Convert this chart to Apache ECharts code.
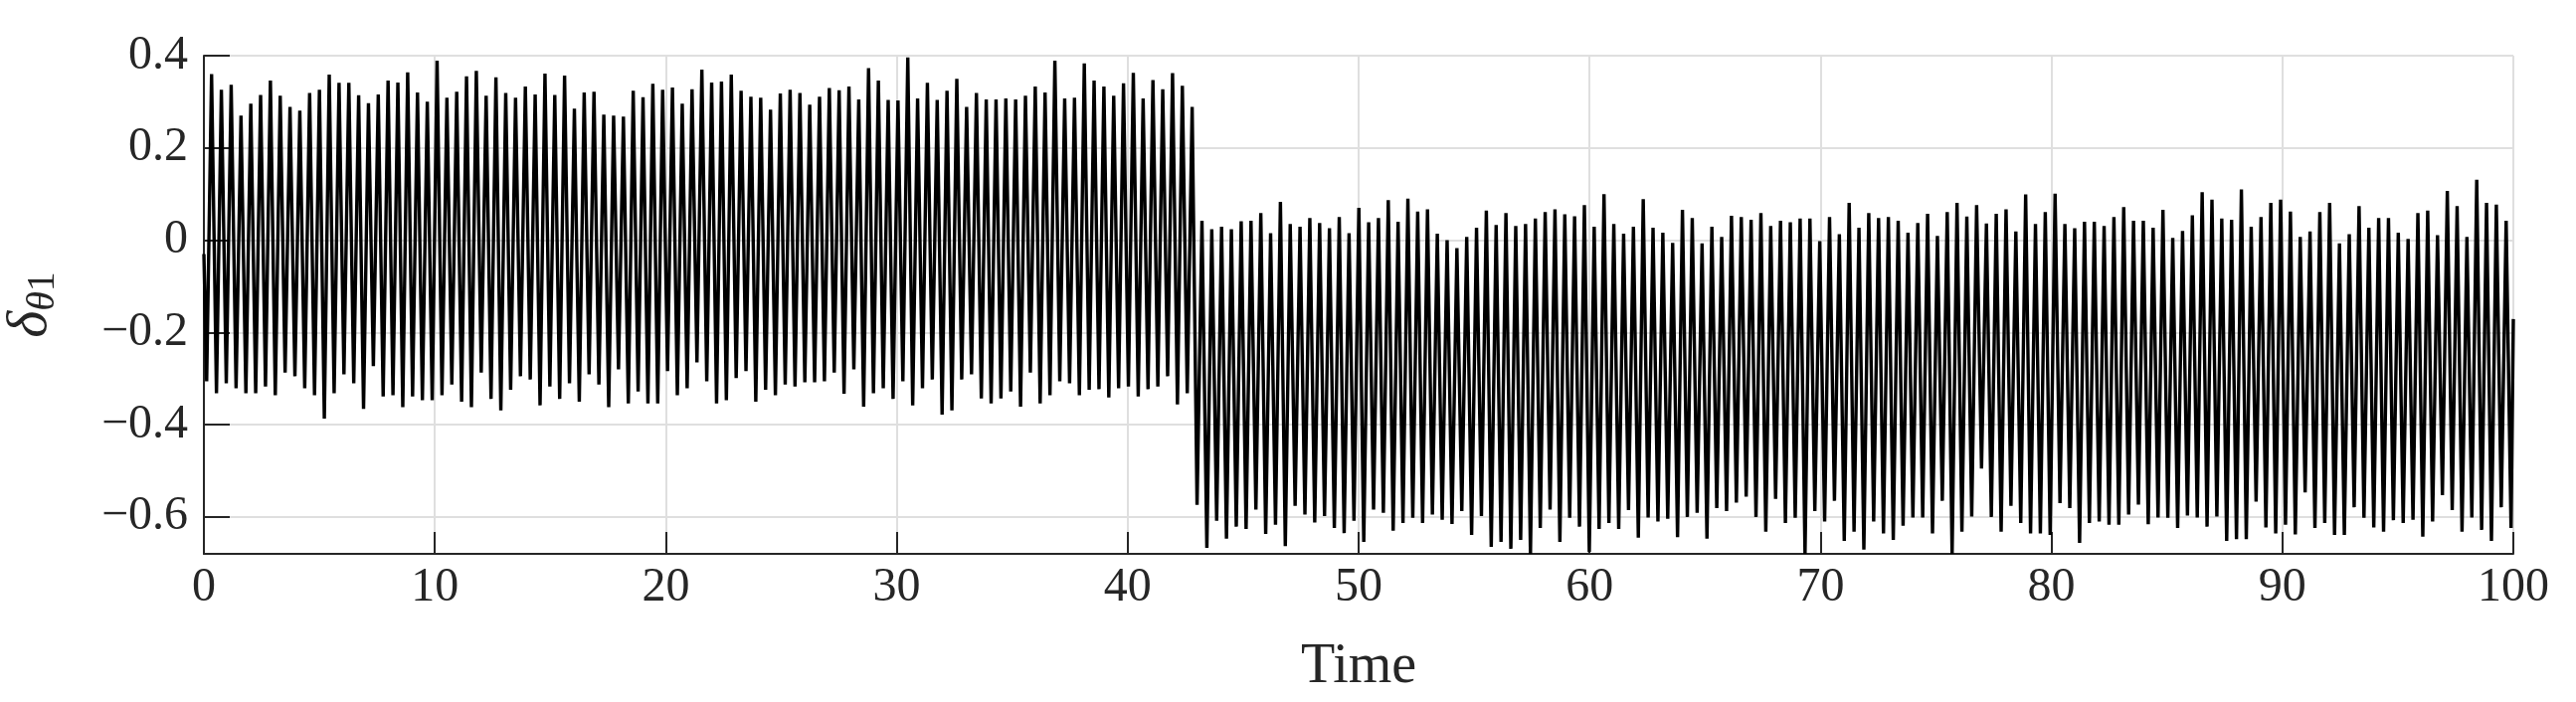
<!DOCTYPE html>
<html><head><meta charset="utf-8">
<script src="https://cdn.jsdelivr.net/npm/echarts@6/dist/echarts.min.js"></script>
<style>html,body{margin:0;padding:0;background:#fff}#c{width:2590px;height:706px}</style>
</head><body><div id="c"></div>
<script>
// ---- data (alternating trough / peak of each oscillation) ----
const startValue = -0.03;   // value at Time = 0
const firstExtremeTime = 0.12;
const halfPeriod = 0.2123;  // time between successive extremes
// Regime A (Time 0 .. ~43)
const troughsA = [
 -0.306,-0.332,-0.31,-0.321,-0.332,-0.332,-0.317,-0.336,-0.287,-0.295,
 -0.321,-0.336,-0.387,-0.332,-0.291,-0.31,-0.366,-0.273,-0.339,-0.336,
 -0.362,-0.339,-0.347,-0.347,-0.336,-0.313,-0.35,-0.362,-0.287,-0.344,
 -0.369,-0.324,-0.295,-0.302,-0.358,-0.317,-0.344,-0.31,-0.35,-0.291,
 -0.313,-0.362,-0.28,-0.354,-0.328,-0.354,-0.354,-0.284,-0.336,
 -0.321,-0.265,-0.306,-0.354,-0.347,-0.299,-0.284,-0.35,-0.324,-0.336,
 -0.313,-0.317,-0.308,-0.308,-0.306,-0.287,-0.333,-0.28,-0.361,-0.332,
 -0.321,-0.344,-0.306,-0.358,-0.321,-0.302,-0.378,-0.369,-0.302,-0.291,
 -0.343,-0.354,-0.343,-0.328,-0.361,-0.287,-0.354,-0.336,-0.306,-0.31,
 -0.336,-0.324,
 -0.323,-0.341,-0.321,-0.317,-0.339,-0.323,-0.317,-0.295,-0.356,-0.332
];
const peaksA = [
 0.36,0.326,0.337,0.27,0.296,0.315,0.346,0.313,0.289,0.281,
 0.319,0.326,0.359,0.341,0.341,0.314,0.297,0.316,0.346,0.342,
 0.364,0.32,0.30,0.389,0.309,0.322,0.355,0.367,0.313,0.353,
 0.319,0.309,0.333,0.316,0.361,0.315,0.357,0.285,0.32,0.322,
 0.272,0.27,0.268,0.324,0.31,0.339,0.326,0.331,0.296,
 0.327,0.37,0.342,0.344,0.359,0.324,0.311,0.309,0.283,0.318,
 0.326,0.319,0.294,0.311,0.33,0.325,0.333,0.305,0.373,0.346,
 0.304,0.303,0.396,0.307,0.341,0.304,0.324,0.35,0.289,0.319,
 0.305,0.305,0.307,0.305,0.313,0.333,0.32,0.389,0.307,0.309,
 0.383,0.346,
 0.333,0.313,0.34,0.363,0.307,0.347,0.327,0.362,0.335,0.289
];
// Regime B (Time ~43 .. 100)
const troughsB = [
 -0.574,-0.667,-0.608,-0.647,-0.621,-0.626,-0.584,-0.637,-0.617,-0.663,
 -0.576,-0.595,-0.612,-0.598,-0.624,-0.635,-0.608,-0.654,-0.584,-0.591,
 -0.63,-0.613,-0.602,-0.613,-0.595,-0.606,-0.615,-0.587,-0.639,-0.598,
 -0.665,-0.654,-0.669,-0.65,-0.68,-0.624,-0.584,-0.654,-0.602,-0.621,
 -0.676,-0.626,-0.613,-0.626,-0.585,-0.645,-0.601,-0.61,-0.604,-0.644,
 -0.6,-0.591,-0.647,-0.581,-0.587,-0.569,-0.556,-0.6,-0.632,-0.561,
 -0.613,-0.602,-0.68,-0.587,-0.61,-0.565,-0.652,-0.632,-0.671,-0.61,
 -0.636,-0.65,-0.619,-0.601,-0.601,-0.636,-0.565,-0.68,-0.632,-0.599,
 -0.495,-0.6,-0.632,-0.576,-0.613,-0.636,-0.636,-0.639,-0.57,-0.581,
 -0.656,-0.613,
 -0.61,-0.617,-0.617,-0.595,-0.573,-0.616,-0.601,-0.602,-0.624,-0.597,
 -0.601,-0.621,-0.599,-0.652,-0.648,-0.648,-0.567,-0.623,-0.636,-0.617,
 -0.638,-0.547,-0.624,-0.613,-0.639,-0.639,-0.579,-0.602,-0.623,-0.632,
 -0.607,-0.613,-0.606,-0.643,-0.61,-0.553,-0.585,-0.632,-0.601,-0.628,
 -0.652,-0.579
];
const peaksB = [
 0.042,0.024,0.029,0.024,0.041,0.042,0.059,0.015,0.083,0.035,
 0.029,0.048,0.037,0.026,0.05,0.015,0.07,0.039,0.048,0.087,
 0.04,0.09,0.062,0.067,0.014,0.0,-0.017,0.007,0.027,0.064,
 0.033,0.059,0.031,0.035,0.047,0.061,0.067,0.056,0.052,0.076,
 0.029,0.1,0.035,0.014,0.029,0.089,0.027,0.016,-0.006,0.066,
 0.048,-0.007,0.029,0.007,0.053,0.05,0.044,0.059,0.031,0.042,
 0.039,0.047,0.047,-0.002,0.05,0.013,0.081,0.027,0.059,0.048,
 0.05,0.042,0.016,0.037,0.057,0.009,0.061,0.081,0.051,0.076,
 0.036,0.057,0.067,0.019,0.099,0.035,0.061,0.101,0.035,0.026,
 0.04,0.04,
 0.031,0.05,0.072,0.042,0.042,0.027,0.066,0.005,0.02,0.054,
 0.104,0.088,0.047,0.044,0.11,0.029,0.05,0.081,0.088,0.062,
 0.007,0.019,0.061,0.081,-0.007,0.013,0.074,0.027,0.048,0.048,
 0.016,0.003,0.059,0.064,0.011,0.107,0.074,0.007,0.131,0.081,
 0.077,0.042
];
const lastTrough = -0.624;
const endValue = -0.171;    // value at Time = 100
const yTickValues = [-0.6, -0.4, -0.2, 0, 0.2, 0.4];

// ---- build the series ----
const extremes = [];
for (let k = 0; k < troughsA.length; k++) { extremes.push(troughsA[k], peaksA[k]); }
for (let k = 0; k < troughsB.length; k++) { extremes.push(troughsB[k], peaksB[k]); }
extremes.push(lastTrough);
const seriesData = [[0, startValue]];
extremes.forEach((v, i) => seriesData.push([firstExtremeTime + i * halfPeriod, v]));
seriesData.push([100, endValue]);

const FONT = 'Liberation Serif';
const INK = '#262626';
const chart = echarts.init(document.getElementById('c'), null, {renderer: 'canvas'});
chart.setOption({
  animation: false,
  backgroundColor: '#fff',
  grid: {left: 205, right: 63, top: 56, bottom: 149, containLabel: false, outerBoundsMode: 'none'},
  xAxis: {
    type: 'value', min: 0, max: 100, interval: 10,
    name: 'Time', nameLocation: 'middle', nameGap: 86,
    nameTextStyle: {fontFamily: FONT, fontSize: 56, color: INK},
    axisLine: {show: true, onZero: false, lineStyle: {color: INK, width: 2}},
    axisTick: {show: true, inside: true, length: 22, lineStyle: {color: INK, width: 2}},
    axisLabel: {fontFamily: FONT, fontSize: 48, color: INK, margin: 10},
    splitLine: {show: true, lineStyle: {color: '#dfdfdf', width: 2}}
  },
  yAxis: {
    type: 'value', min: -0.68, max: 0.4,
    name: '{d|δ}{s|θ}{n|1}', nameLocation: 'middle', nameGap: 142, nameRotate: 90,
    nameTextStyle: {
      color: INK,
      rich: {
        d: {fontFamily: FONT, fontStyle: 'italic', fontSize: 58, lineHeight: 64, color: INK},
        s: {fontFamily: FONT, fontStyle: 'italic', fontSize: 40, lineHeight: 34, verticalAlign: 'bottom', color: INK},
        n: {fontFamily: FONT, fontSize: 40, lineHeight: 34, verticalAlign: 'bottom', color: INK}
      }
    },
    axisLine: {show: true, onZero: false, lineStyle: {color: INK, width: 2}},
    axisTick: {show: true, inside: true, length: 26, customValues: yTickValues, lineStyle: {color: INK, width: 2}},
    axisLabel: {
      fontFamily: FONT, fontSize: 48, color: INK, margin: 16, customValues: yTickValues,
      formatter: v => v === 0 ? '0' : (v < 0 ? '\u2212' : '') + Math.abs(v).toFixed(1)
    },
    splitLine: {show: true, lineStyle: {color: '#dfdfdf', width: 2}}
  },
  series: [{
    type: 'line', data: seriesData, showSymbol: false, symbol: 'none',
    sampling: null, clip: true,
    lineStyle: {color: '#000', width: 3.4, join: 'miter'}
  }]
});
</script></body></html>
